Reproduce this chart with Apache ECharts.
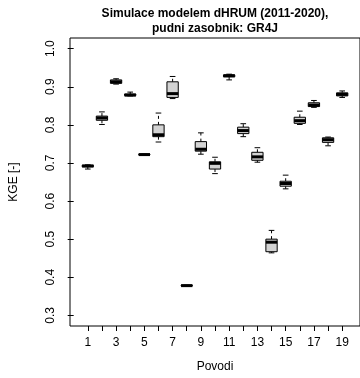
<!DOCTYPE html>
<html>
<head>
<meta charset="utf-8">
<script src="https://cdn.jsdelivr.net/npm/echarts@6/dist/echarts.min.js"></script>
<style>
  html, body { margin: 0; padding: 0; background: #ffffff; }
  #chart { width: 360px; height: 378px; }
</style>
</head>
<body>
<div id="chart"></div>
<script>
// KGE per catchment (povodi), five-number summaries of the boxplots
const povodi  = [1, 2, 3, 4, 5, 6, 7, 8, 9, 10, 11, 12, 13, 14, 15, 16, 17, 18, 19];
const kgeMin  = [0.684, 0.801, 0.907, 0.876, 0.721, 0.755, 0.869, 0.377, 0.723, 0.672, 0.918, 0.769, 0.702, 0.464, 0.632, 0.801, 0.846, 0.745, 0.872];
const kgeQ1   = [0.690, 0.812, 0.909, 0.877, 0.721, 0.769, 0.872, 0.377, 0.731, 0.684, 0.926, 0.777, 0.707, 0.467, 0.639, 0.804, 0.848, 0.754, 0.876];
const kgeMed  = [0.692, 0.818, 0.913, 0.878, 0.722, 0.774, 0.882, 0.378, 0.736, 0.699, 0.929, 0.785, 0.716, 0.492, 0.646, 0.811, 0.852, 0.761, 0.880];
const kgeQ3   = [0.694, 0.823, 0.918, 0.881, 0.723, 0.800, 0.913, 0.379, 0.756, 0.703, 0.931, 0.794, 0.728, 0.500, 0.652, 0.820, 0.858, 0.766, 0.884];
const kgeMax  = [0.695, 0.834, 0.921, 0.886, 0.723, 0.831, 0.927, 0.379, 0.779, 0.715, 0.933, 0.803, 0.740, 0.523, 0.668, 0.836, 0.864, 0.768, 0.889];

const xTicks  = [1, 2, 3, 4, 5, 6, 7, 8, 9, 10, 11, 12, 13, 14, 15, 16, 17, 18, 19];
const xLabels = [1, 3, 5, 7, 9, 11, 13, 15, 17, 19];
const yTicks  = [0.3, 0.4, 0.5, 0.6, 0.7, 0.8, 0.9, 1.0];

const FONT = '"Liberation Sans", Arial, Helvetica, sans-serif';

const boxData = povodi.map((p, i) => [p, kgeMin[i], kgeQ1[i], kgeMed[i], kgeQ3[i], kgeMax[i]]);

function renderBox(params, api) {
  const x = api.value(0);
  const vMin = api.value(1), vQ1 = api.value(2), vMed = api.value(3), vQ3 = api.value(4), vMax = api.value(5);
  const pMin = api.coord([x, vMin]);
  const pQ1 = api.coord([x, vQ1]);
  const pMed = api.coord([x, vMed]);
  const pQ3 = api.coord([x, vQ3]);
  const pMax = api.coord([x, vMax]);
  const half = api.size([0.4, 0])[0];
  const cap = api.size([0.2, 0])[0];
  const cx = pMed[0];
  const dash = { stroke: '#000', lineWidth: 1, lineDash: [3, 3] };
  const solid = { stroke: '#000', lineWidth: 1 };
  return {
    type: 'group',
    children: [
      { type: 'line', shape: { x1: cx, y1: pQ3[1], x2: cx, y2: pMax[1] }, style: dash },
      { type: 'line', shape: { x1: cx, y1: pQ1[1], x2: cx, y2: pMin[1] }, style: dash },
      { type: 'line', shape: { x1: cx - cap, y1: pMax[1], x2: cx + cap, y2: pMax[1] }, style: solid },
      { type: 'line', shape: { x1: cx - cap, y1: pMin[1], x2: cx + cap, y2: pMin[1] }, style: solid },
      { type: 'rect', shape: { x: cx - half, y: pQ3[1], width: 2 * half, height: Math.max(pQ1[1] - pQ3[1], 0.5) },
        style: { fill: '#d3d3d3', stroke: '#000', lineWidth: 1 } },
      { type: 'line', shape: { x1: cx - half, y1: pMed[1], x2: cx + half, y2: pMed[1] },
        style: { stroke: '#000', lineWidth: 3 } }
    ]
  };
}

const chart = echarts.init(document.getElementById('chart'), null, { renderer: 'canvas' });
chart.setOption({
  animation: false,
  backgroundColor: '#ffffff',
  textStyle: { fontFamily: FONT },
  title: {
    text: 'Simulace modelem dHRUM (2011-2020),\npudni zasobnik: GR4J',
    left: 215,
    top: 6,
    padding: 0,
    textAlign: 'center',
    textStyle: { fontFamily: FONT, fontSize: 12, fontWeight: 'bold', color: '#000', lineHeight: 15 }
  },
  grid: {
    left: 69, top: 38, right: -2, bottom: 47,
    show: true, borderColor: '#000', borderWidth: 1, backgroundColor: 'transparent'
  },
  xAxis: {
    type: 'value',
    min: -0.26, max: 20.26,
    name: 'Povodi',
    nameLocation: 'middle',
    nameGap: 35,
    nameTextStyle: { fontFamily: FONT, fontSize: 12, color: '#000' },
    axisLine: { show: false },
    splitLine: { show: false },
    axisTick: { show: true, inside: false, length: 5, customValues: xTicks, lineStyle: { color: '#000' } },
    axisLabel: { customValues: xLabels, margin: 11, fontFamily: FONT, fontSize: 12, color: '#000',
      formatter: v => String(v) }
  },
  yAxis: {
    type: 'value',
    min: 0.272, max: 1.028,
    name: 'KGE [-]',
    nameLocation: 'middle',
    nameRotate: 90,
    nameGap: 50,
    nameTextStyle: { fontFamily: FONT, fontSize: 12, color: '#000' },
    axisLine: { show: false },
    splitLine: { show: false },
    axisTick: { show: true, inside: false, length: 6, customValues: yTicks, lineStyle: { color: '#000' } },
    axisLabel: { customValues: yTicks, rotate: 90, margin: 13, fontFamily: FONT, fontSize: 12, color: '#000',
      formatter: v => v.toFixed(1) }
  },
  series: [{
    type: 'custom',
    renderItem: renderBox,
    encode: { x: 0, y: [1, 2, 3, 4, 5] },
    data: boxData,
    clip: false
  }]
});
</script>
</body>
</html>
